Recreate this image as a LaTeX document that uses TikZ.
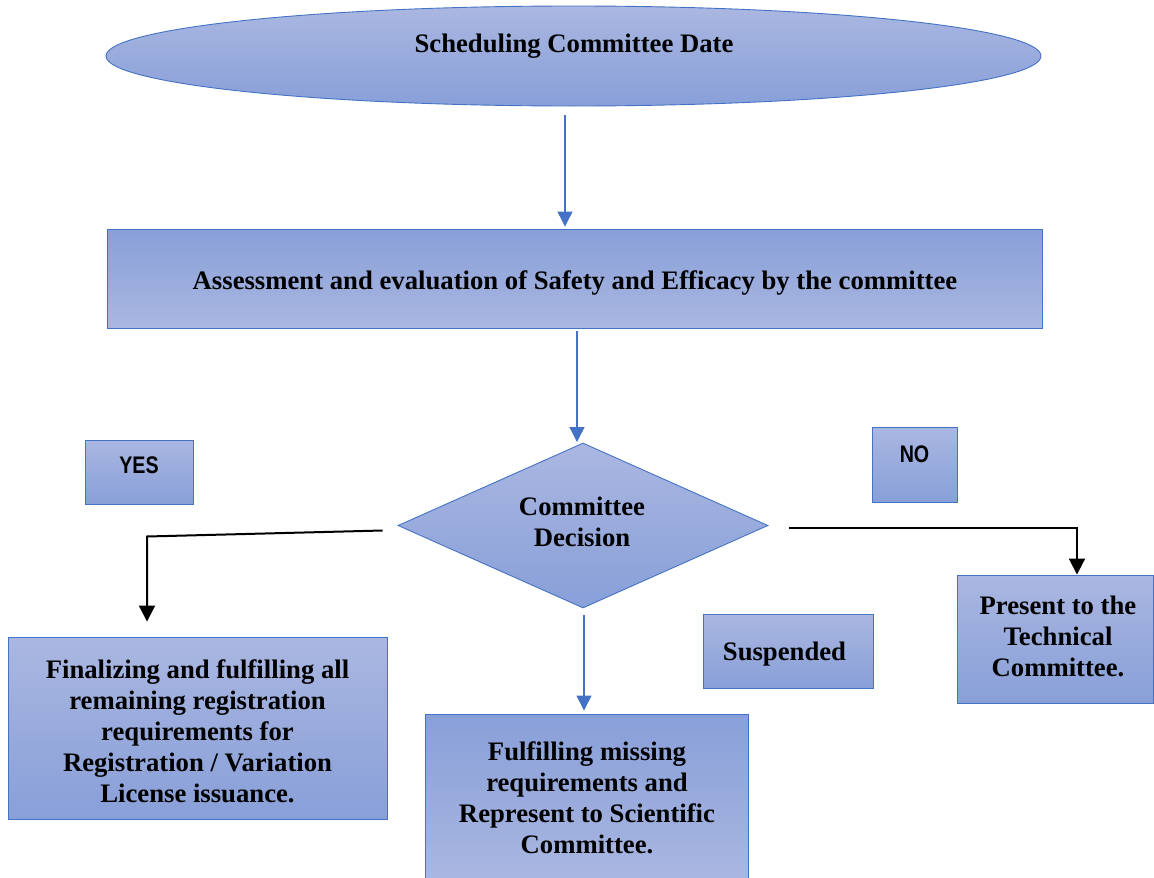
\documentclass[tikz,border=0pt]{standalone}
\usepackage{fontspec}
\setmainfont{Liberation Serif}
\newfontfamily\narrowsans{Liberation Sans}[FakeStretch=0.82]
\usetikzlibrary{shapes.geometric,arrows.meta,calc}
\definecolor{cLight}{RGB}{170,183,225}
\definecolor{cDark}{RGB}{136,159,216}
\definecolor{cEdge}{RGB}{68,114,196}
\begin{document}
\begin{tikzpicture}[x=1pt,y=-1pt,
  shdown/.style={draw=cEdge, line width=0.9pt, top color=cLight, bottom color=cDark, inner sep=0pt},
  shup/.style={draw=cEdge, line width=0.9pt, top color=cDark, bottom color=cLight, inner sep=0pt},
  txt/.style={font=\bfseries\fontsize{26.7}{31}\selectfont, align=center, text=black, inner sep=0pt},
  lbl/.style={font=\narrowsans\bfseries\fontsize{24}{28}\selectfont, text=black, inner sep=0pt},
  barrow/.style={draw=cEdge, line width=1.2pt, -{Triangle[length=15pt,width=15pt]}},
  karrow/.style={draw=black, line width=2pt, -{Triangle[length=16pt,width=16pt]}},
]
\useasboundingbox (0,0) rectangle (1154,878);
\clip (0,0) rectangle (1154,878);

% shapes
\node[shdown, ellipse, minimum width=935pt, minimum height=100pt] (ell) at (573.5,56) {};
\node[txt] (ellt) at (574,46.5) {Scheduling Committee Date};

\node[shup, rectangle, minimum width=935pt, minimum height=99pt] (assess) at (574.5,278.5) {};
\node[txt] (assesst) at (575,283) {Assessment and evaluation of Safety and Efficacy by the committee};

\node[shdown, diamond, minimum width=370pt, minimum height=165pt] (dec) at (583,525.5) {};
\node[txt] (dect) at (582,521.5) {Committee\\Decision};

\node[shdown, rectangle, minimum width=108pt, minimum height=64pt] (yes) at (139,472) {};
\node[lbl] (yest) at (139,465.5) {YES};

\node[shdown, rectangle, minimum width=85pt, minimum height=75pt] (no) at (914.5,464.5) {};
\node[lbl] (not) at (914.5,454) {NO};

\node[shdown, rectangle, minimum width=379pt, minimum height=182pt] (left) at (197.5,728) {};
\node[txt] (leftt) at (197.5,731) {Finalizing and fulfilling all\\remaining registration\\requirements for\\Registration / Variation\\License issuance.};

\node[shup, rectangle, minimum width=323pt, minimum height=168pt] (mid) at (586.5,798) {};
\node[txt] (midt) at (587,798) {Fulfilling missing\\requirements and\\Represent to Scientific\\Committee.};

\node[shdown, rectangle, minimum width=170pt, minimum height=74pt] (susp) at (788,651) {};
\node[txt] (suspt) at (784.5,654) {Suspended};

\node[shdown, rectangle, minimum width=196pt, minimum height=128pt] (pres) at (1055,639) {};
\node[txt] (prest) at (1058,636) {Present to the\\Technical\\Committee.};

% connectors
\draw[barrow] ($(ell.south)+(-8.5,9)$) -- ($(assess.north)+(-9.5,-2)$);
\draw[barrow] ($(assess.south)+(2.5,3)$) -- ($(dec.north)+(-6,-0.5)$);
\draw[barrow] ($(dec.south)+(1,7)$) -- ($(mid.north)+(-2.5,-3)$);

\coordinate (lc) at (147,536.5);
\draw[karrow, line join=miter] ($(dec.west)+(-15,5)$) -- (lc) -- ($(left.north)+(-50.5,-15)$);

\coordinate (rc) at (1077,528);
\draw[karrow, line join=miter] ($(dec.east)+(21,2.5)$) -- (rc) -- ($(pres.north)+(22,0)$);
\end{tikzpicture}
\end{document}
